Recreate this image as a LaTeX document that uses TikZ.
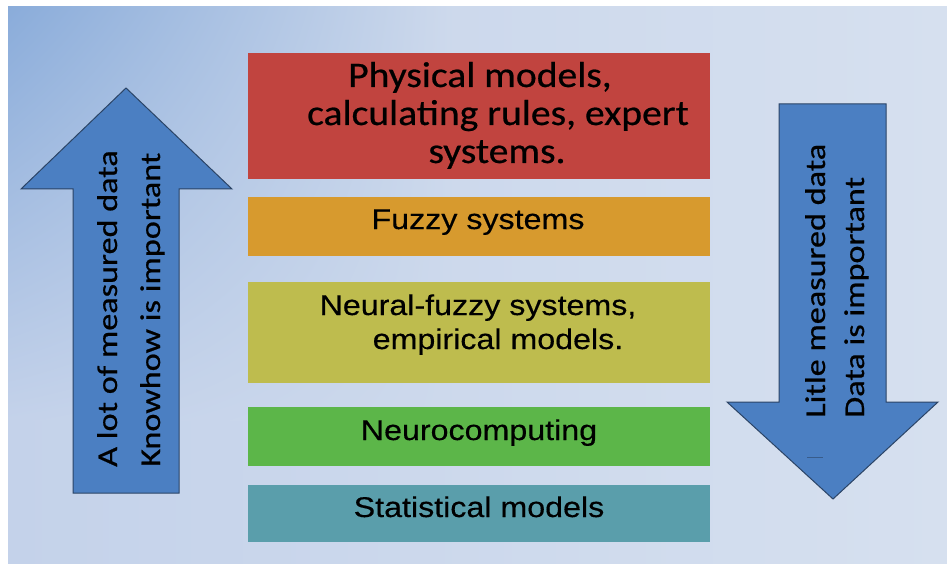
\documentclass[tikz,border=0pt]{standalone}
\usepackage{fontspec}
\usetikzlibrary{shadings}
\newfontfamily\calibbox[FakeStretch=1.1,FakeBold=0.6]{Carlito}
\newfontfamily\arialbox[FakeStretch=1.13,FakeBold=0.4]{Liberation Sans}
\newfontfamily\calibarrow[FakeStretch=1.2,FakeBold=0.6]{Carlito}
\definecolor{bgA}{HTML}{8AACDA}
\definecolor{bgL}{HTML}{C4D2EA}
\definecolor{bgM}{HTML}{CDD9EC}
\definecolor{bgR}{HTML}{D6E0EF}
\definecolor{redbox}{HTML}{C1443F}
\definecolor{orangebox}{HTML}{D79A2E}
\definecolor{olivebox}{HTML}{BEBC4E}
\definecolor{greenbox}{HTML}{5CB649}
\definecolor{tealbox}{HTML}{5A9EAB}
\definecolor{arrowblue}{HTML}{4B7FC2}
\definecolor{arrowedge}{HTML}{2B4466}
\begin{document}
\begin{tikzpicture}[x=1pt,y=-1pt,
  levelbox/.style={draw=none, minimum width=462pt, inner sep=0pt, anchor=north west},
  sanstxt/.style={anchor=base, inner sep=0pt, text=black, font=\arialbox\fontsize{28.5}{34}\selectfont},
  caltxt/.style={anchor=base, inner sep=0pt, text=black, font=\calibbox\fontsize{36}{40}\selectfont},
  arrtxt/.style={anchor=base west, rotate=90, inner sep=0pt, text=black, font=\calibarrow\fontsize{28.5}{44}\selectfont},
  bigarrow/.style={fill=arrowblue, draw=arrowedge, line width=1pt, line join=miter}]
\useasboundingbox (0,0) rectangle (947,564);
\fill[white] (0,0) rectangle (947,564);
\shade[left color=bgL, right color=bgR] (8,7) rectangle (947,564);
\shade[upper left=bgA, upper right=bgM, lower left=bgL, lower right=bgM] (8,7) rectangle (450,420);

% level boxes
\node[levelbox, fill=redbox, minimum height=126pt] (phys) at (248,53) {};
\node[levelbox, fill=orangebox, minimum height=59pt] (fuzzy) at (248,197) {};
\node[levelbox, fill=olivebox, minimum height=101pt] (neurofuzzy) at (248,282) {};
\node[levelbox, fill=greenbox, minimum height=59pt] (neuro) at (248,407) {};
\node[levelbox, fill=tealbox, minimum height=57pt] (stat) at (248,485) {};

% texts
\node[caltxt] (phys1) at (480,87) {Physical models,};
\node[caltxt] (phys2) at (498,125) {calculating rules, expert};
\node[caltxt] (phys3) at (497,163) {systems.};
\node[sanstxt] (fuzzytxt) at (478,229) {Fuzzy systems};
\node[sanstxt] (nf1) at (478,315) {Neural-fuzzy systems,};
\node[sanstxt] (nf2) at (498,349) {empirical models.};
\node[sanstxt] (neurotxt) at (479,440) {Neurocomputing};
\node[sanstxt] (stattxt) at (479,517) {Statistical models};

% arrows
\draw[bigarrow] (73,493) -- (73,189) -- (21,189) -- (126,88) -- (232,189) -- (179,189) -- (179,493) -- cycle;
\draw[bigarrow] (779,104) -- (886,104) -- (886,402) -- (938,402) -- (833,499) -- (727,402) -- (779,402) -- cycle;
\draw[arrowedge!60!arrowblue, line width=1pt] (807,457) -- (823,457);

\node[arrtxt] (up1) at (117,467) {A lot of measured data};
\node[arrtxt] (up2) at (160,467) {Knowhow is important};
\node[arrtxt] (down1) at (825,418) {Litle measured data};
\node[arrtxt] (down2) at (864,418) {Data is important};
\end{tikzpicture}
\end{document}
